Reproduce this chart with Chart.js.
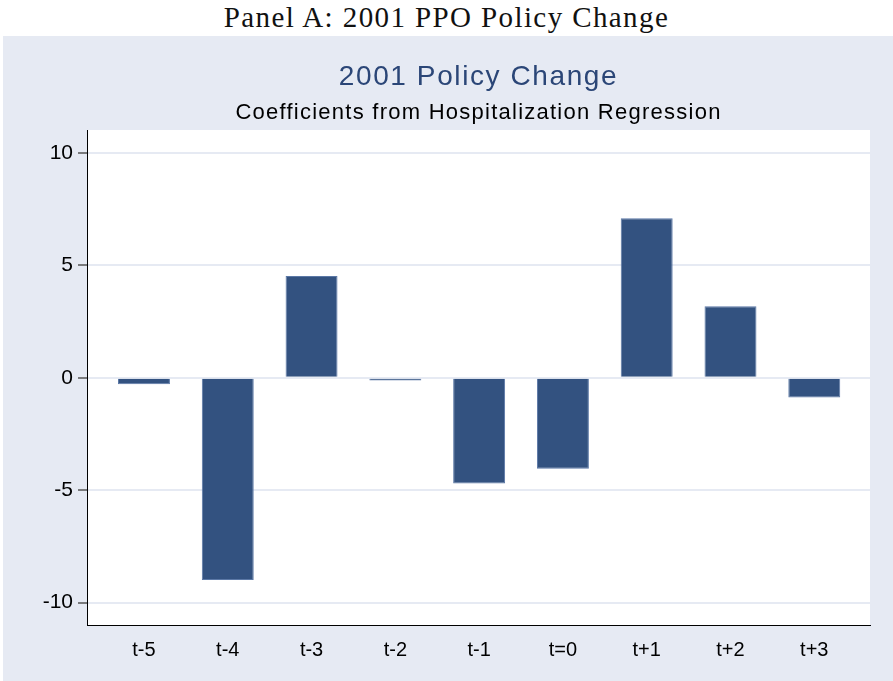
<!DOCTYPE html>
<html>
<head>
<meta charset="utf-8">
<script src="https://cdn.jsdelivr.net/npm/chart.js@4/dist/chart.umd.min.js"></script>
<style>
  html, body { margin: 0; padding: 0; background: #fff; }
  #head {
    height: 36px; line-height: 34px; text-align: center;
    font-family: "Liberation Serif", "Times New Roman", serif; font-size: 29px; color: #111;
    letter-spacing: 1.4px;
  }
  #panel { position: absolute; left: 3px; top: 36px; width: 890px; height: 645px; background: #e6eaf3; }
</style>
</head>
<body>
<div id="head">Panel A: 2001 PPO Policy Change</div>
<div id="panel"><canvas id="c" width="890" height="645"></canvas></div>
<script>
/* ---------- Data ---------- */
const categories = ['t-5', 't-4', 't-3', 't-2', 't-1', 't=0', 't+1', 't+2', 't+3'];
const coefficients = [-0.28, -9.0, 4.53, -0.12, -4.7, -4.05, 7.1, 3.19, -0.88];
const yTicks = [-10, -5, 0, 5, 10];

const FONT = '"Liberation Sans", Arial, sans-serif';

// white plot region on the bluish panel
const plotBg = {
  id: 'plotBg',
  beforeDraw(chart) {
    const a = chart.chartArea;
    const ctx = chart.ctx;
    ctx.save();
    ctx.fillStyle = '#ffffff';
    ctx.fillRect(a.left, a.top, a.right - a.left, a.bottom - a.top);
    ctx.restore();
  }
};

// Stata's text runs a bit wider than Arial: add some letter spacing per box
const spacing = {
  id: 'spacing',
  afterLayout(chart) {
    chart.boxes.forEach(box => {
      if (box._spaced) return;
      let ls = null;
      if (box.options && box.options.text === '2001 Policy Change') ls = '1.6px';
      else if (box.options && box.options.text === 'Coefficients from Hospitalization Regression') ls = '1.25px';
      else if (box.id === 'x') ls = '1px';
      if (!ls) return;
      const orig = box.draw;
      box.draw = function (area) {
        const ctx = chart.ctx;
        ctx.save();
        ctx.letterSpacing = ls;
        orig.call(this, area);
        ctx.restore();
      };
      box._spaced = true;
    });
  }
};

new Chart(document.getElementById('c'), {
  type: 'bar',
  data: {
    datasets: [{
      data: coefficients.map((v, i) => ({ x: i, y: v })),
      backgroundColor: '#335280',
      borderColor: '#5b78a6',
      borderWidth: 1,
      barPercentage: 0.62,
      categoryPercentage: 1,
    }],
  },
  options: {
    responsive: false,
    animation: false,
    layout: { padding: { left: 0, right: 23, top: 0, bottom: 0 } },
    plugins: {
      legend: { display: false },
      tooltip: { enabled: false },
      title: {
        display: true,
        fullSize: false,
        text: '2001 Policy Change',
        color: '#2b4677',
        font: { family: FONT, size: 28, weight: 'normal', lineHeight: 1.2 },
        padding: { top: 24, bottom: 0 },
      },
      subtitle: {
        display: true,
        fullSize: false,
        text: 'Coefficients from Hospitalization Regression',
        color: '#000',
        font: { family: FONT, size: 22, weight: 'normal', lineHeight: 1.2 },
        padding: { top: 6, bottom: 4 },
      },
    },
    scales: {
      x: {
        type: 'linear',
        offset: false,
        min: -0.68,
        max: 8.665,
        afterBuildTicks(scale) { scale.ticks = categories.map((c, i) => ({ value: i })); },
        afterFit(scale) { scale.height = 56; },
        grid: { display: false, drawTicks: false },
        border: { display: true, color: '#000', width: 1 },
        ticks: {
          color: '#000',
          padding: 13,
          font: { family: FONT, size: 20 },
          maxRotation: 0,
          autoSkip: false,
          callback: (v) => categories[v],
        },
      },
      y: {
        min: -11,
        max: 11.03,
        afterBuildTicks(scale) { scale.ticks = yTicks.map(v => ({ value: v })); },
        afterFit(scale) { scale.width = 84; },
        grid: { color: '#e6eaf3', lineWidth: 2, tickColor: '#555', tickLength: 9, tickWidth: 1.5 },
        border: { display: true, color: '#000', width: 1 },
        ticks: {
          color: '#000',
          padding: 5,
          font: { family: FONT, size: 21 },
        },
      },
    },
  },
  plugins: [plotBg, spacing],
});
</script>
</body>
</html>
